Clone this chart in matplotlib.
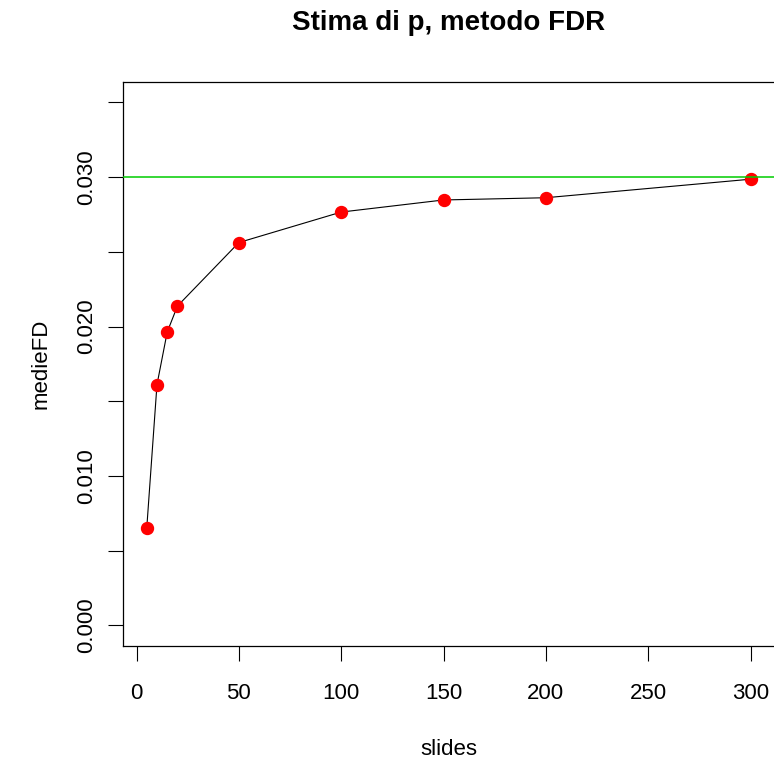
import matplotlib
matplotlib.use("Agg")
import matplotlib.pyplot as plt

# data
slides = [5, 10, 15, 20, 50, 100, 150, 200, 300]
medieFD = [0.00651, 0.01611, 0.01963, 0.02137, 0.02562, 0.02766, 0.02847, 0.02862, 0.02986]
p_true = 0.03

x_ticks = [0, 50, 100, 150, 200, 250, 300]
y_ticks = [0.000, 0.005, 0.010, 0.015, 0.020, 0.025, 0.030, 0.035]
y_ticklabels = ["0.000", "", "0.010", "", "0.020", "", "0.030", ""]

plt.rcParams["font.family"] = ["Liberation Sans", "DejaVu Sans"]

W, H = 774, 762
fig = plt.figure(figsize=(W / 100, H / 100), dpi=100)

# plot region in pixels (R base-graphics style)
left_px, right_px, top_px, bottom_px = 122.6, 774.7, 81.5, 646.2
ax = fig.add_axes([left_px / W, 1 - bottom_px / H,
                   (right_px - left_px) / W, (bottom_px - top_px) / H])

ax.plot(slides, medieFD, color="black", lw=0.8, zorder=2)
ax.plot(slides, medieFD, "o", color="red", ms=8.6, mec="red", zorder=3)
ax.axhline(p_true, color="#00CD00", lw=1.1, zorder=4)

# R-style 4% range extension
xr = max(slides) - min(slides)
ax.set_xlim(min(slides) - 0.04 * xr, max(slides) + 0.04 * xr)
ax.set_ylim(0 - 0.04 * 0.035, 0.035 + 0.04 * 0.035)

ax.set_xticks(x_ticks)
ax.set_xticklabels([str(v) for v in x_ticks])
ax.set_yticks(y_ticks)
ax.set_yticklabels(y_ticklabels)

ax.tick_params(axis="both", direction="out", length=10.8, width=0.8,
               labelsize=16, colors="black")
ax.tick_params(axis="x", pad=26.9)
ax.tick_params(axis="y", pad=11.4)
for lbl in ax.get_xticklabels():
    lbl.set_va("baseline")
for lbl in ax.get_yticklabels():
    lbl.set_rotation(90)
    lbl.set_rotation_mode("anchor")
    lbl.set_ha("center")
    lbl.set_va("baseline")

for sp in ax.spines.values():
    sp.set_linewidth(0.9)
    sp.set_color("black")

cx = (left_px + right_px) / 2
fig.text(cx / W, 1 - 30 / H, "Stima di p, metodo FDR", ha="center",
         va="baseline", fontsize=20, fontweight="bold")
fig.text(cx / W, 1 - 755 / H, "slides", ha="center", va="baseline", fontsize=16)
fig.text(46.7 / W, 1 - ((top_px + bottom_px) / 2) / H, "medieFD", rotation=90,
         rotation_mode="anchor", ha="center", va="baseline", fontsize=16)

fig.savefig("out.png", dpi=100)
